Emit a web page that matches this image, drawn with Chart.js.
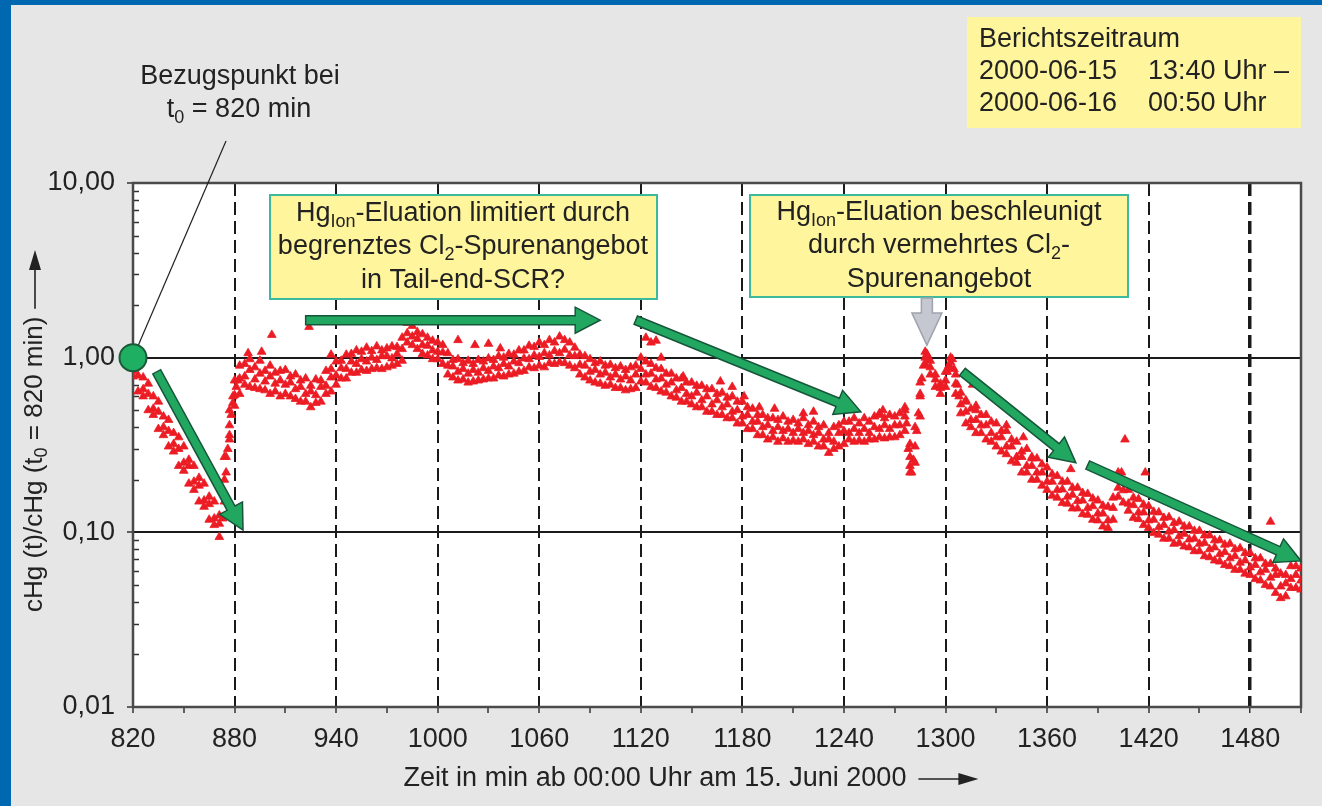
<!DOCTYPE html>
<html>
<head>
<meta charset="utf-8">
<script src="https://cdn.jsdelivr.net/npm/chart.js@4/dist/chart.umd.min.js"></script>
<style>
  html, body { margin: 0; padding: 0; background: #e6e6e6; }
  #box { width: 1322px; height: 806px; }
</style>
</head>
<body>
<div id="box"><canvas id="chart" width="1322" height="806"></canvas></div>
<script>
// --- Achsen ---
const xLabelValues = [820, 880, 940, 1000, 1060, 1120, 1180, 1240, 1300, 1360, 1420, 1480];
const xMinorValues = [850, 910, 970, 1030, 1090, 1150, 1210, 1270, 1330, 1390, 1450, 1510];
const yDecades = [0.01, 0.1, 1, 10];
const yMinorFactors = [2, 3, 4, 5, 6, 7, 8, 9];

// --- Messwerte (Zeit in min, cHg(t)/cHg(t0)) ---
const minutes = [
  820, 823, 826, 829, 832, 835, 838, 841, 844, 847,
  850, 853, 856, 859, 862, 865, 868, 871, 874, 877,
  880, 883, 886, 889, 892, 895, 898, 901, 904, 907,
  910, 913, 916, 919, 922, 925, 928, 931, 934, 937,
  940, 943, 946, 949, 952, 955, 958, 961, 964, 967,
  970, 973, 976, 979, 982, 985, 988, 991, 994, 997,
  1000, 1003, 1006, 1009, 1012, 1015, 1018, 1021, 1024, 1027,
  1030, 1033, 1036, 1039, 1042, 1045, 1048, 1051, 1054, 1057,
  1060, 1063, 1066, 1069, 1072, 1075, 1078, 1081, 1084, 1087,
  1090, 1093, 1096, 1099, 1102, 1105, 1108, 1111, 1114, 1117,
  1120, 1123, 1126, 1129, 1132, 1135, 1138, 1141, 1144, 1147,
  1150, 1153, 1156, 1159, 1162, 1165, 1168, 1171, 1174, 1177,
  1180, 1183, 1186, 1189, 1192, 1195, 1198, 1201, 1204, 1207,
  1210, 1213, 1216, 1219, 1222, 1225, 1228, 1231, 1234, 1237,
  1240, 1243, 1246, 1249, 1252, 1255, 1258, 1261, 1264, 1267,
  1270, 1273, 1276, 1279, 1282, 1285, 1288, 1291, 1294, 1297,
  1300, 1303, 1306, 1309, 1312, 1315, 1318, 1321, 1324, 1327,
  1330, 1333, 1336, 1339, 1342, 1345, 1348, 1351, 1354, 1357,
  1360, 1363, 1366, 1369, 1372, 1375, 1378, 1381, 1384, 1387,
  1390, 1393, 1396, 1399, 1402, 1405, 1408, 1411, 1414, 1417,
  1420, 1423, 1426, 1429, 1432, 1435, 1438, 1441, 1444, 1447,
  1450, 1453, 1456, 1459, 1462, 1465, 1468, 1471, 1474, 1477,
  1480, 1483, 1486, 1489, 1492, 1495, 1498, 1501, 1504, 1507, 1510
];
const hgHigh = [
  0.95, 0.9, 0.77, 0.71, 0.6, 0.56, 0.46, 0.44, 0.37, 0.35,
  0.31, 0.26, 0.24, 0.205, 0.19, 0.16, 0.15, 0.125, 0.27, 0.5,
  0.74, 0.9, 0.92, 0.98, 0.88, 0.96, 0.84, 0.9, 0.82, 0.84,
  0.85, 0.78, 0.8, 0.74, 0.76, 0.69, 0.75, 0.74, 0.84, 0.86,
  0.95, 0.96, 1.04, 1.05, 1.1, 1.08, 1.14, 1.09, 1.16, 1.1,
  1.13, 1.16, 1.15, 1.3, 1.58, 1.52, 1.4, 1.36, 1.3, 1.25,
  1.22, 1.18, 1.06, 0.97, 0.98, 0.93, 0.96, 0.92, 0.97, 0.95,
  0.99, 0.97, 1.02, 1.0, 1.05, 1.04, 1.1, 1.1, 1.17, 1.15,
  1.22, 1.18, 1.26, 1.22, 1.32, 1.26, 1.22, 1.14, 1.04, 1.02,
  0.98, 0.93, 0.95, 0.9, 0.91, 0.87, 0.89, 0.85, 0.88, 0.9,
  1.0, 0.95, 0.92, 0.87, 0.86, 0.81, 0.81, 0.76, 0.76, 0.72,
  0.72, 0.69, 0.69, 0.66, 0.66, 0.62, 0.63, 0.59, 0.6, 0.56,
  0.56, 0.52, 0.51, 0.47, 0.47, 0.45, 0.45, 0.44, 0.46, 0.43,
  0.44, 0.42, 0.45, 0.41, 0.43, 0.4, 0.41, 0.37, 0.4, 0.41,
  0.43, 0.43, 0.45, 0.42, 0.45, 0.43, 0.46, 0.47, 0.45, 0.47,
  0.46, 0.48, 0.52, 0.32, 0.4, 0.72, 1.08, 0.96, 0.8, 0.71,
  0.83, 1.0, 0.8, 0.63, 0.56, 0.51, 0.5, 0.47, 0.47, 0.43,
  0.42, 0.38, 0.38, 0.34, 0.33, 0.29, 0.3, 0.265, 0.265, 0.245,
  0.235, 0.215, 0.21, 0.195, 0.195, 0.18, 0.18, 0.168, 0.166, 0.156,
  0.152, 0.142, 0.14, 0.158, 0.22, 0.195, 0.175, 0.158, 0.155, 0.144,
  0.141, 0.131, 0.13, 0.121, 0.122, 0.113, 0.115, 0.108, 0.108, 0.102,
  0.102, 0.096, 0.096, 0.09, 0.09, 0.085, 0.086, 0.08, 0.081, 0.076,
  0.076, 0.071, 0.071, 0.066, 0.066, 0.062, 0.058, 0.057, 0.064, 0.064, 0.062
];
const hgMid = [
  0.84, 0.79, 0.66, 0.62, 0.51, 0.49, 0.4, 0.38, 0.32, 0.3,
  0.25, 0.24, 0.195, 0.185, 0.152, 0.145, 0.12, 0.112, 0.2, 0.41,
  0.61, 0.76, 0.78, 0.85, 0.75, 0.81, 0.73, 0.78, 0.71, 0.74,
  0.7, 0.72, 0.66, 0.68, 0.62, 0.64, 0.61, 0.68, 0.69, 0.77,
  0.79, 0.87, 0.86, 0.95, 0.92, 0.98, 0.95, 1.0, 0.97, 1.02,
  1.02, 0.99, 1.05, 1.12, 1.38, 1.32, 1.28, 1.18, 1.17, 1.1,
  1.08, 1.07, 0.9, 0.89, 0.83, 0.86, 0.81, 0.85, 0.82, 0.87,
  0.84, 0.89, 0.87, 0.92, 0.89, 0.95, 0.93, 0.99, 0.98, 1.03,
  1.01, 1.06, 1.03, 1.09, 1.06, 1.11, 1.03, 1.02, 0.91, 0.9,
  0.83, 0.85, 0.8, 0.82, 0.77, 0.8, 0.75, 0.78, 0.74, 0.8,
  0.86, 0.8, 0.81, 0.75, 0.76, 0.7, 0.72, 0.65, 0.67, 0.62,
  0.6, 0.63, 0.57, 0.6, 0.54, 0.57, 0.52, 0.54, 0.49, 0.5,
  0.46, 0.47, 0.43, 0.43, 0.4, 0.41, 0.38, 0.4, 0.38, 0.39,
  0.37, 0.39, 0.37, 0.38, 0.36, 0.37, 0.34, 0.34, 0.33, 0.37,
  0.38, 0.37, 0.39, 0.37, 0.39, 0.37, 0.4, 0.39, 0.41, 0.39,
  0.41, 0.41, 0.46, 0.27, 0.31, 0.6, 1.0, 0.88, 0.75, 0.67,
  0.74, 0.94, 0.71, 0.54, 0.49, 0.44, 0.44, 0.41, 0.41, 0.37,
  0.35, 0.35, 0.31, 0.31, 0.27, 0.27, 0.24, 0.24, 0.22, 0.22,
  0.195, 0.195, 0.175, 0.176, 0.16, 0.164, 0.151, 0.152, 0.138, 0.141,
  0.128, 0.128, 0.117, 0.138, 0.18, 0.174, 0.146, 0.143, 0.13, 0.13,
  0.117, 0.118, 0.107, 0.11, 0.101, 0.103, 0.095, 0.098, 0.091, 0.092,
  0.086, 0.087, 0.08, 0.082, 0.075, 0.077, 0.071, 0.073, 0.067, 0.069,
  0.063, 0.065, 0.059, 0.061, 0.055, 0.057, 0.049, 0.051, 0.054, 0.057, 0.053
];
const hgLow = [
  0.78, 0.64, 0.6, 0.5, 0.47, 0.39, 0.36, 0.31, 0.29, 0.24,
  0.225, 0.19, 0.175, 0.15, 0.14, 0.118, 0.11, 0.094, 0.15, 0.34,
  0.53, 0.62, 0.7, 0.68, 0.67, 0.66, 0.65, 0.62, 0.64, 0.6,
  0.62, 0.6, 0.58, 0.56, 0.56, 0.52, 0.55, 0.56, 0.62, 0.64,
  0.7, 0.76, 0.76, 0.82, 0.82, 0.85, 0.84, 0.86, 0.87, 0.86,
  0.88, 0.9, 0.92, 0.96, 1.22, 1.18, 1.12, 1.05, 1.03, 0.98,
  0.98, 0.92, 0.8, 0.77, 0.74, 0.75, 0.72, 0.73, 0.74, 0.75,
  0.76, 0.76, 0.79, 0.78, 0.8, 0.81, 0.83, 0.84, 0.88, 0.87,
  0.9, 0.88, 0.93, 0.92, 0.94, 0.93, 0.9, 0.87, 0.8, 0.77,
  0.74, 0.72, 0.71, 0.69, 0.7, 0.67, 0.67, 0.65, 0.66, 0.67,
  0.73, 0.72, 0.68, 0.67, 0.64, 0.63, 0.6, 0.59, 0.56, 0.56,
  0.54, 0.52, 0.52, 0.49, 0.49, 0.47, 0.47, 0.45, 0.45, 0.42,
  0.42, 0.39, 0.39, 0.36, 0.36, 0.34, 0.35, 0.33, 0.345, 0.33,
  0.335, 0.33, 0.34, 0.32, 0.33, 0.31, 0.31, 0.285, 0.3, 0.31,
  0.32, 0.34, 0.33, 0.335, 0.33, 0.34, 0.34, 0.35, 0.345, 0.35,
  0.35, 0.36, 0.38, 0.22, 0.25, 0.46, 0.92, 0.8, 0.68, 0.62,
  0.68, 0.87, 0.62, 0.48, 0.42, 0.4, 0.37, 0.37, 0.34, 0.33,
  0.31, 0.29, 0.28, 0.255, 0.25, 0.22, 0.22, 0.2, 0.2, 0.185,
  0.175, 0.162, 0.158, 0.147, 0.146, 0.137, 0.137, 0.127, 0.126, 0.118,
  0.117, 0.108, 0.106, 0.118, 0.16, 0.148, 0.133, 0.121, 0.119, 0.11,
  0.106, 0.099, 0.097, 0.092, 0.092, 0.086, 0.087, 0.083, 0.082, 0.078,
  0.078, 0.073, 0.072, 0.069, 0.068, 0.065, 0.064, 0.061, 0.061, 0.058,
  0.057, 0.054, 0.053, 0.05, 0.049, 0.045, 0.042, 0.043, 0.048, 0.048, 0.047
];
// steile Flanken und Ausreisser
const extraMinutes = [
  873, 874, 875, 875, 876, 877, 878, 879, 879, 881, 882,
  888, 896, 902, 924, 937, 1012, 1022, 1030, 1037,
  1123, 1126, 1129, 1132, 1145, 1167, 1174, 1181, 1190, 1199, 1216, 1222, 1261, 1263, 1276,
  1277, 1278, 1279, 1280, 1281, 1283, 1284, 1285, 1286, 1287, 1289, 1290,
  1301, 1302, 1304, 1305, 1307, 1308,
  1312, 1316, 1318, 1336, 1346, 1351, 1374, 1404, 1406, 1418, 1492
];
const extraValues = [
  0.12, 0.17, 0.22, 0.27, 0.3, 0.36, 0.47, 0.55, 0.6, 0.68, 0.74,
  1.06, 1.08, 1.35, 1.5, 1.04, 1.26, 1.18, 1.2, 1.13,
  1.3, 1.22, 1.25, 1.0, 0.78, 0.73, 0.68, 0.6, 0.52, 0.51, 0.48, 0.49, 0.48, 0.5, 0.5,
  0.42, 0.3, 0.24, 0.22, 0.26, 0.38, 0.48, 0.62, 0.76, 0.9, 1.05, 0.97,
  0.83, 0.9, 0.98, 0.86, 0.7, 0.6,
  0.57, 0.7, 0.53, 0.41, 0.35, 0.27, 0.23, 0.22, 0.34, 0.22, 0.115
];
const refMinute = 820;
const refValue = 1;

// Pfeile [t1, v1, t2, v2]
const greenArrows = [
  [834, 0.83, 885, 0.103],
  [922, 1.64, 1096, 1.64],
  [1117, 1.64, 1250, 0.49],
  [1310, 0.83, 1377, 0.25],
  [1384, 0.243, 1510, 0.0686]
];

const FONT = "'Liberation Sans', Arial, sans-serif";
const RED = '#ec1c24';
const W = 1322, H = 806;

const yTickValues = [];
yDecades.forEach(d => {
  yTickValues.push(d);
  if (d < 10) yMinorFactors.forEach(f => yTickValues.push(d * f));
});
const xTickValues = xLabelValues.concat(xMinorValues).sort((a, b) => a - b);

const isDecade = v => Math.abs(Math.log10(v) - Math.round(Math.log10(v))) < 1e-6;

// Text mit Tiefstellung
function drawRich(ctx, parts, x, y, align, size) {
  const subSize = Math.round(size * 0.68);
  let total = 0;
  parts.forEach(p => {
    ctx.font = (p[1] ? subSize : size) + 'px ' + FONT;
    total += ctx.measureText(p[0]).width;
  });
  let cx = align === 'center' ? x - total / 2 : x;
  ctx.textAlign = 'left';
  ctx.textBaseline = 'middle';
  parts.forEach(p => {
    ctx.font = (p[1] ? subSize : size) + 'px ' + FONT;
    ctx.fillText(p[0], cx, y + (p[1] ? size * 0.28 : 0));
    cx += ctx.measureText(p[0]).width;
  });
  return total;
}

function fatArrow(ctx, x1, y1, x2, y2, shaft, headW, headL, fill, stroke) {
  const dx = x2 - x1, dy = y2 - y1, len = Math.hypot(dx, dy);
  const ux = dx / len, uy = dy / len, nx = -uy, ny = ux;
  const bx = x2 - ux * headL, by = y2 - uy * headL;
  const pts = [
    [x1 + nx * shaft / 2, y1 + ny * shaft / 2],
    [bx + nx * shaft / 2, by + ny * shaft / 2],
    [bx + nx * headW / 2, by + ny * headW / 2],
    [x2, y2],
    [bx - nx * headW / 2, by - ny * headW / 2],
    [bx - nx * shaft / 2, by - ny * shaft / 2],
    [x1 - nx * shaft / 2, y1 - ny * shaft / 2]
  ];
  ctx.beginPath();
  pts.forEach((p, i) => i ? ctx.lineTo(p[0], p[1]) : ctx.moveTo(p[0], p[1]));
  ctx.closePath();
  ctx.fillStyle = fill;
  ctx.fill();
  ctx.lineWidth = 1.5;
  ctx.strokeStyle = stroke;
  ctx.stroke();
}

function textBox(ctx, x, y, w, h, border) {
  ctx.fillStyle = '#fff59c';
  ctx.fillRect(x, y, w, h);
  if (border) {
    ctx.lineWidth = 2;
    ctx.strokeStyle = '#3db99d';
    ctx.strokeRect(x, y, w, h);
  }
}

const decor = {
  id: 'decor',
  beforeDraw(chart) {
    const { ctx, chartArea: a } = chart;
    ctx.save();
    ctx.fillStyle = '#e6e6e6';
    ctx.fillRect(0, 0, W, H);
    ctx.fillStyle = '#0067b1';
    ctx.fillRect(0, 0, 11, H);
    ctx.fillRect(0, 0, W, 5);
    ctx.fillStyle = '#ffffff';
    ctx.fillRect(a.left, a.top, a.width, a.height);
    ctx.restore();
  },
  beforeDatasetsDraw(chart) {
    const { ctx, chartArea: a, scales } = chart;
    ctx.save();
    // kleine Teilstriche nach innen
    ctx.strokeStyle = '#333';
    ctx.lineWidth = 1.5;
    scales.y.ticks.forEach(t => {
      if (isDecade(t.value)) return;
      const py = Math.round(scales.y.getPixelForValue(t.value)) + 0.5;
      ctx.beginPath();
      ctx.moveTo(a.left, py);
      ctx.lineTo(a.left + 6, py);
      ctx.stroke();
    });
    ctx.strokeStyle = '#4a4a4a';
    ctx.lineWidth = 2.5;
    ctx.strokeRect(a.left, a.top, a.width, a.height);
    ctx.restore();
  },
  afterDraw(chart) {
    const { ctx, chartArea: a, scales } = chart;
    const px = t => scales.x.getPixelForValue(t);
    const py = v => scales.y.getPixelForValue(v);
    ctx.save();
    ctx.fillStyle = '#222';

    // Bezugspunkt
    drawRich(ctx, [['Bezugspunkt bei']], 240, 77, 'center', 27);
    drawRich(ctx, [['t'], ['0', true], [' = 820 min']], 239, 110, 'center', 27);
    const cx = px(refMinute), cy = py(refValue);
    const lx = 226, ly = 141;
    const d = Math.hypot(cx - lx, cy - ly);
    ctx.strokeStyle = '#222';
    ctx.lineWidth = 1.2;
    ctx.beginPath();
    ctx.moveTo(lx, ly);
    ctx.lineTo(cx - (cx - lx) / d * 14, cy - (cy - ly) / d * 14);
    ctx.stroke();

    // Berichtszeitraum
    textBox(ctx, 967, 17, 334, 111, false);
    ctx.fillStyle = '#222';
    drawRich(ctx, [['Berichtszeitraum']], 979, 40, 'left', 27);
    drawRich(ctx, [['2000-06-15']], 979, 72, 'left', 27);
    drawRich(ctx, [['13:40 Uhr \u2013']], 1148, 72, 'left', 27);
    drawRich(ctx, [['2000-06-16']], 979, 104, 'left', 27);
    drawRich(ctx, [['00:50 Uhr']], 1148, 104, 'left', 27);

    // Kommentar-Kaesten
    textBox(ctx, 270, 195, 387, 104, true);
    ctx.fillStyle = '#222';
    drawRich(ctx, [['Hg'], ['Ion', true], ['-Eluation limitiert durch']], 463, 214, 'center', 27);
    drawRich(ctx, [['begrenztes Cl'], ['2', true], ['-Spurenangebot']], 463, 247, 'center', 27);
    drawRich(ctx, [['in Tail-end-SCR?']], 463, 281, 'center', 27);

    textBox(ctx, 750, 195, 378, 102, true);
    ctx.fillStyle = '#222';
    drawRich(ctx, [['Hg'], ['Ion', true], ['-Eluation beschleunigt']], 939, 213, 'center', 27);
    drawRich(ctx, [['durch vermehrtes Cl'], ['2', true], ['-']], 939, 246, 'center', 27);
    drawRich(ctx, [['Spurenangebot']], 939, 280, 'center', 27);

    // grauer Pfeil auf das Maximum
    fatArrow(ctx, px(1289), 298, px(1289), py(1.18), 11, 30, 32, '#c5c8d0', '#9ea3ac');

    // gruene Pfeile
    greenArrows.forEach(g => {
      fatArrow(ctx, px(g[0]), py(g[1]), px(g[2]), py(g[3]), 9, 26, 25, '#21a75f', '#17553a');
    });

    // Achsentitel x
    ctx.fillStyle = '#222';
    ctx.font = '27px ' + FONT;
    const xt = 'Zeit in min ab 00:00 Uhr am 15. Juni 2000';
    const xw = ctx.measureText(xt).width;
    const xs = 655 - xw / 2;
    drawRich(ctx, [[xt]], xs, 779, 'left', 27);
    ctx.strokeStyle = '#222';
    ctx.lineWidth = 1.6;
    ctx.beginPath();
    ctx.moveTo(xs + xw + 12, 779);
    ctx.lineTo(xs + xw + 58, 779);
    ctx.stroke();
    ctx.beginPath();
    ctx.moveTo(xs + xw + 72, 779);
    ctx.lineTo(xs + xw + 52, 773);
    ctx.lineTo(xs + xw + 52, 785);
    ctx.closePath();
    ctx.fill();

    // Achsentitel y
    ctx.save();
    ctx.translate(35, 612);
    ctx.rotate(-Math.PI / 2);
    const yw = drawRich(ctx, [['cHg (t)/cHg (t'], ['0', true], [' = 820 min)']], 0, 0, 'left', 26);
    ctx.beginPath();
    ctx.moveTo(yw + 8, 0);
    ctx.lineTo(612 - 266, 0);
    ctx.stroke();
    ctx.beginPath();
    ctx.moveTo(612 - 250, 0);
    ctx.lineTo(612 - 270, -6);
    ctx.lineTo(612 - 270, 6);
    ctx.closePath();
    ctx.fill();
    ctx.restore();

    ctx.restore();
  }
};

function redSet(xs, ys) {
  return {
    data: xs.map((x, i) => ({ x: x, y: ys[i] })),
    pointStyle: 'triangle',
    pointRadius: 5,
    backgroundColor: RED,
    borderColor: RED,
    borderWidth: 0.8
  };
}

new Chart(document.getElementById('chart'), {
  type: 'scatter',
  data: {
    datasets: [
      {
        data: [{ x: refMinute, y: refValue }],
        pointRadius: 13.5,
        backgroundColor: '#1faf62',
        borderColor: '#1a5a38',
        borderWidth: 2,
        clip: false
      },
      redSet(minutes, hgHigh),
      redSet(minutes, hgMid),
      redSet(minutes, hgLow),
      redSet(extraMinutes, extraValues)
    ]
  },
  options: {
    responsive: false,
    animation: false,
    devicePixelRatio: 1,
    layout: { padding: { top: 183, right: 21, left: 0, bottom: 0 } },
    plugins: { legend: { display: false }, tooltip: { enabled: false } },
    scales: {
      x: {
        type: 'linear',
        min: 820,
        max: 1510,
        afterBuildTicks: s => { s.ticks = xTickValues.map(v => ({ value: v })); },
        afterFit: s => { s.height = 99; },
        ticks: {
          autoSkip: false,
          maxRotation: 0,
          padding: 10,
          color: '#222',
          font: { family: FONT, size: 27 },
          callback: v => xLabelValues.includes(v) ? String(v) : ''
        },
        grid: {
          color: c => (c.tick && xLabelValues.includes(c.tick.value) && c.tick.value !== 820) ? '#1a1a1a' : 'rgba(0,0,0,0)',
          lineWidth: c => (c.tick && c.tick.value === 1480) ? 3.5 : 2,
          tickColor: '#333',
          tickLength: 6,
          tickWidth: 1.5,
          tickBorderDash: []
        },
        border: { display: false, dash: [13, 6] }
      },
      y: {
        type: 'logarithmic',
        min: 0.01,
        max: 10,
        afterBuildTicks: s => { s.ticks = yTickValues.map(v => ({ value: v, major: isDecade(v) })); },
        afterFit: s => { s.width = 133; },
        ticks: {
          autoSkip: false,
          padding: 12,
          color: '#222',
          font: { family: FONT, size: 27 },
          callback: v => isDecade(v) ? v.toFixed(2).replace('.', ',') : ''
        },
        grid: {
          color: c => (c.tick && isDecade(c.tick.value)) ? '#1a1a1a' : 'rgba(0,0,0,0)',
          tickColor: c => (c.tick && isDecade(c.tick.value)) ? '#333' : 'rgba(0,0,0,0)',
          lineWidth: 2,
          tickLength: 6,
          tickWidth: 1.5
        },
        border: { display: false }
      }
    }
  },
  plugins: [decor]
});
</script>
</body>
</html>
